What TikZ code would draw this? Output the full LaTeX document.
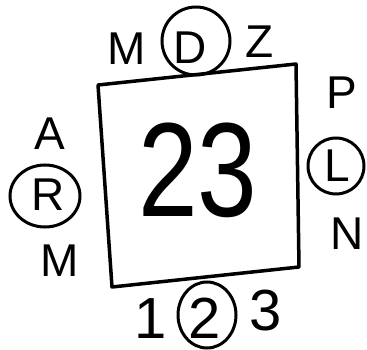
\documentclass[tikz,border=0pt]{standalone}
\usepackage{fontspec}
\setmainfont{Liberation Sans}
\usetikzlibrary{shapes.geometric}
\begin{document}
\begin{tikzpicture}[x=1pt,y=-1pt,
  box/.style={line width=3.5pt, line join=round, line cap=round},
  lbl/.style={font=\fontsize{46}{46}\selectfont, inner sep=0pt},
  dig/.style={font=\fontsize{58}{58}\selectfont, inner sep=0pt},
  big/.style={font=\fontsize{134}{134}\selectfont, inner sep=0pt},
  ring/.style={draw, line width=3pt, inner sep=0pt}]
\useasboundingbox (0,0) rectangle (367,350);
\coordinate (tl) at (98,85);
\coordinate (tr) at (296,64);
\coordinate (br) at (299,267);
\coordinate (bl) at (112,287);
\draw[box] (tl) -- (tr) -- (br) -- (bl) -- cycle;
\node[big] (c) at (198,170) {\scalebox{0.8}[1]{23}};
% top
\node[lbl] (tm) at (127,49) {M};
\node[lbl] (td) at (190,48) {D};
\node[ring, circle, minimum size=68pt] (tdc) at (196,41) {};
\node[lbl] (tz) at (260,42) {Z};
% right
\node[lbl] (rp) at (342,93) {P};
\node[lbl] (rl) at (337,166) {L};
\node[ring, circle, minimum size=56pt] (rlc) at (336,166) {};
\node[lbl] (rn) at (347,234) {N};
% left
\node[lbl] (la) at (50,134) {A};
\node[lbl] (lr) at (48,195) {R};
\node[ring, ellipse, minimum width=70pt, minimum height=62pt] (lrc) at (45,196) {};
\node[lbl] (lm) at (60,261) {M};
% bottom
\node[dig] (b1) at (151,319) {1};
\node[dig] (b2) at (205,318) {2};
\node[ring, ellipse, minimum width=58pt, minimum height=66pt] (b2c) at (207,315) {};
\node[dig] (b3) at (266,311) {3};
\end{tikzpicture}
\end{document}
